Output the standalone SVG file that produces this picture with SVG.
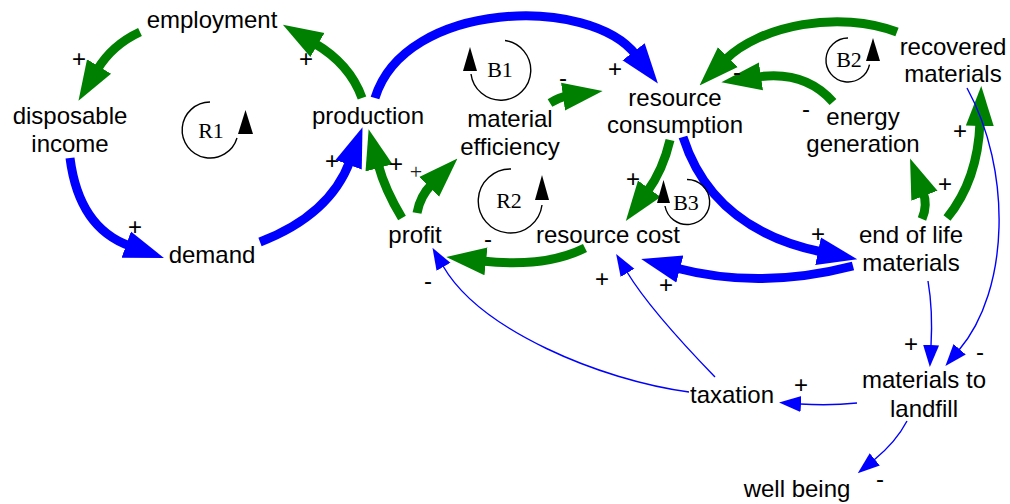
<svg xmlns="http://www.w3.org/2000/svg" width="1010" height="504" viewBox="0 0 1010 504">
<defs>
<style>
.n{font-family:"Liberation Sans",Arial,sans-serif;font-size:24px;fill:#000;text-anchor:middle}
.p{font-family:"Liberation Sans",Arial,sans-serif;font-size:24px;fill:#000;text-anchor:middle}
.ps{font-family:"Liberation Serif","Times New Roman",serif;font-size:22px;fill:#222;text-anchor:middle}
.l{font-family:"Liberation Serif","Times New Roman",serif;font-size:22px;fill:#000;text-anchor:middle}
.g{fill:none;stroke:#008000;stroke-width:9;marker-end:url(#ag)}
.b{fill:none;stroke:#0000ff;stroke-width:9;marker-end:url(#ab)}
.t{fill:none;stroke:#0000ff;stroke-width:1.4;marker-end:url(#at)}
.la{fill:none;stroke:#000;stroke-width:1.4}
.lh{fill:#000}
</style>
<marker id="ag" viewBox="0 -15 40 30" refX="4" refY="0" markerWidth="40" markerHeight="30" markerUnits="userSpaceOnUse" orient="auto"><path d="M0,-14 L40,0 L0,14 z" fill="#008000"/></marker>
<marker id="ab" viewBox="0 -15 40 30" refX="4" refY="0" markerWidth="40" markerHeight="30" markerUnits="userSpaceOnUse" orient="auto"><path d="M0,-14 L40,0 L0,14 z" fill="#0000ff"/></marker>
<marker id="at" viewBox="0 -9 22 18" refX="1" refY="0" markerWidth="22" markerHeight="18" markerUnits="userSpaceOnUse" orient="auto"><path d="M0,-8 L22,0 L0,8 z" fill="#0000ff"/></marker>
</defs>
<rect width="1010" height="504" fill="#fff"/>
<g id="connectors">
<path class="g" d="M362,98 Q350,64 314,43"/>
<path class="g" d="M140,32 Q112,45 97,70"/>
<path class="b" d="M70,158 Q79,228 130,246"/>
<path class="b" d="M260,242 Q330,215 350,161"/>
<path class="g" d="M402,218 Q385,190 378,164"/>
<path class="g" d="M417,213 Q420,196 432,184"/>
<path class="g" d="M550,103 Q560,97 567,96"/>
<path class="b" d="M375,98 C405,0 590,-5 636,55"/>
<path class="g" d="M670,140 Q663,170 647,192"/>
<path class="g" d="M585,248 Q545,268 482,261"/>
<path class="b" d="M683,137 C700,190 740,235 822,252"/>
<path class="b" d="M853,266 Q760,290 676,268"/>
<path class="g" d="M922,219 Q928,205 923,192"/>
<path class="g" d="M947,218 Q978,180 980,122"/>
<path class="g" d="M833,102 Q805,70 757,77"/>
<path class="g" d="M897,32 C840,10 760,25 725,60"/>
<path class="t" d="M967,88 C1012,170 1010,290 959,350"/>
<path class="t" d="M928,281 Q933,310 931,346"/>
<path class="t" d="M857,403 Q830,406 800,404"/>
<path class="t" d="M907,421 Q896,442 874,460"/>
<path class="t" d="M689,392 C600,380 480,330 443,266"/>
<path class="t" d="M715,377 Q650,310 627,272"/>
</g>
<g id="polarities">
<text class="p" x="79" y="67">+</text>
<text class="p" x="306" y="67">+</text>
<text class="p" x="135" y="235">+</text>
<text class="p" x="332" y="169">+</text>
<text class="p" x="396" y="172">+</text>
<text class="ps" x="416" y="179">+</text>
<text class="p" x="563" y="86">-</text>
<text class="p" x="615" y="77">+</text>
<text class="p" x="737" y="80">-</text>
<text class="p" x="806" y="117">-</text>
<text class="p" x="633" y="187">+</text>
<text class="p" x="488" y="247">-</text>
<text class="p" x="818" y="242">+</text>
<text class="p" x="666" y="293">+</text>
<text class="p" x="945" y="192">+</text>
<text class="p" x="960" y="139">+</text>
<text class="p" x="428" y="289">-</text>
<text class="p" x="602" y="287">+</text>
<text class="p" x="911" y="352">+</text>
<text class="p" x="980" y="360">-</text>
<text class="p" x="801" y="393">+</text>
<text class="p" x="880" y="487">-</text>
</g>
<g id="loop-R1">
<path class="la" d="M210,102 A28,28 0 1 0 237,138"/>
<polygon class="lh" points="238,134 253,134 245.5,110"/>
<text class="l" x="211" y="138">R1</text>
</g>
<g id="loop-B1">
<path class="la" d="M505,40.5 A30,30 0 1 1 471,74"/>
<polygon class="lh" points="463,71 477,71 470,47"/>
<text class="l" x="500" y="77">B1</text>
</g>
<g id="loop-R2">
<path class="la" d="M511,169 A32,32 0 1 0 542,205"/>
<polygon class="lh" points="535,200 549,200 542,175"/>
<text class="l" x="509" y="208">R2</text>
</g>
<g id="loop-B2">
<path class="la" d="M848,38 A22,22 0 1 0 869.5,64.6"/>
<polygon class="lh" points="866,61 880,61 873,38"/>
<text class="l" x="849" y="67">B2</text>
</g>
<g id="loop-B3">
<path class="la" d="M687,179.5 A22.5,22.5 0 1 1 665,206"/>
<polygon class="lh" points="657,203 670,203 663.5,180"/>
<text class="l" x="686" y="210">B3</text>
</g>
<g id="employment"><text class="n" x="212" y="28">employment</text></g>
<g id="disposable-income"><text class="n" x="70" y="124">disposable</text><text class="n" x="70" y="152">income</text></g>
<g id="demand"><text class="n" x="212" y="263">demand</text></g>
<g id="production"><text class="n" x="368" y="124">production</text></g>
<g id="material-efficiency"><text class="n" x="510" y="127">material</text><text class="n" x="510" y="155">efficiency</text></g>
<g id="resource-consumption"><text class="n" x="675" y="106">resource</text><text class="n" x="675" y="133">consumption</text></g>
<g id="energy-generation"><text class="n" x="863" y="125">energy</text><text class="n" x="863" y="152">generation</text></g>
<g id="recovered-materials"><text class="n" x="953" y="55">recovered</text><text class="n" x="953" y="82">materials</text></g>
<g id="profit"><text class="n" x="415" y="243">profit</text></g>
<g id="resource-cost"><text class="n" x="608" y="243">resource cost</text></g>
<g id="end-of-life-materials"><text class="n" x="911" y="243">end of life</text><text class="n" x="911" y="271">materials</text></g>
<g id="materials-to-landfill"><text class="n" x="924" y="388">materials to</text><text class="n" x="924" y="417">landfill</text></g>
<g id="taxation"><text class="n" x="732" y="403">taxation</text></g>
<g id="well-being"><text class="n" x="797" y="497">well being</text></g>
</svg>
